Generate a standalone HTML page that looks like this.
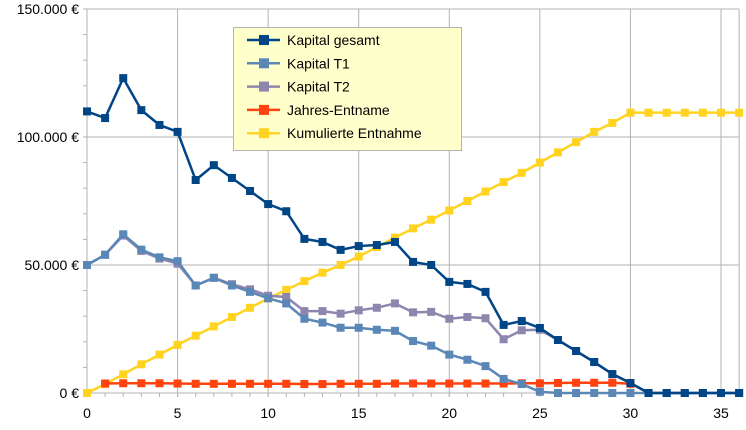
<!DOCTYPE html>
<html><head><meta charset="utf-8"><style>
body{margin:0;background:#fff;font-family:"Liberation Sans",sans-serif}
svg text{font-family:"Liberation Sans",sans-serif}
</style></head><body>
<svg id="c" width="746" height="425" xmlns="http://www.w3.org/2000/svg"></svg>
<script>
const years=[0,1,2,3,4,5,6,7,8,9,10,11,12,13,14,15,16,17,18,19,20,21,22,23,24,25,26,27,28,29,30,31,32,33,34,35,36];
const gesamt=[110,107.4,123,110.5,104.7,102,83.2,89,84,78.9,73.8,71,60.2,59,55.9,57.4,57.8,59,51.2,50,43.4,42.6,39.5,26.6,28.1,25.4,20.7,16.4,12.1,7.4,3.9,0,0,0,0,0,0];
const t1=[50,54,62,56,53,51.5,42,45,42,39.5,37,35,29,27.5,25.5,25.5,24.7,24.3,20.3,18.5,15,13,10.5,5.5,3.5,0.5,0,0,0,0,0,0,0,0,0,0,0];
const t2=[50,54,61.5,55.5,52.5,50.5,42,45,42.5,40.5,38,37.5,32,32,31,32.3,33.3,35,31.5,31.7,29,29.7,29.2,21,24.5,24.7,20.7,16.4,12.1,7.4,3.9,0,0,0,0,0,0];
const jahres=[null,3.7,3.8,3.8,3.8,3.7,3.6,3.6,3.6,3.6,3.6,3.6,3.5,3.5,3.6,3.6,3.6,3.7,3.7,3.7,3.7,3.7,3.7,3.7,3.8,3.8,3.9,4,4,4,3.6,null,null,null,null,null,null];
const kumuliert=[0,3.5,7.3,11.2,15,18.8,22.4,26,29.7,33.3,36.9,40.3,43.7,47,50,53.3,57,60.7,64.3,67.7,71.3,75,78.7,82.4,86,90,94,98,102,105.5,109.5,109.5,109.5,109.5,109.5,109.5,109.5];
const yTicks=[0,50,100,150];
const yLabels=["0 €","50.000 €","100.000 €","150.000 €"];
const xTicks=[0,5,10,15,20,25,30,35];
const seriesNames=["Kapital gesamt","Kapital T1","Kapital T2","Jahres-Entname","Kumulierte Entnahme"];
const X0=87,XW=(721-87)/35,Y0=393,YH=128/50;
const sx=v=>X0+v*XW, sy=v=>Y0-v*YH;
const svg=document.getElementById('c');
const NS='http://www.w3.org/2000/svg';
function el(t,a,p){const e=document.createElementNS(NS,t);for(const k in a)e.setAttribute(k,a[k]);(p||svg).appendChild(e);return e;}
// grid
yTicks.forEach((v,i)=>{
 const g=el('line',{x1:X0,x2:sx(36),y1:sy(v),y2:sy(v),stroke:'#b3b3b3','stroke-width':1});
 
 
 const t=el('text',{x:X0-8,y:sy(v)+5,'text-anchor':'end','font-size':14,fill:'#000'});
 t.textContent=yLabels[i];
 
 
});
for(let v=0;v<=150;v+=10){el('line',{x1:X0-4,x2:X0,y1:sy(v),y2:sy(v),stroke:'#b3b3b3'});}
const ya=el('line',{x1:X0,x2:X0,y1:sy(150),y2:Y0,stroke:'#b3b3b3'});


el('line',{x1:sx(36),x2:sx(36),y1:sy(150),y2:Y0,stroke:'#b3b3b3'});
for(let v=0;v<=36;v++){el('line',{x1:sx(v),x2:sx(v),y1:Y0,y2:Y0+4,stroke:'#b3b3b3'});}
xTicks.forEach(v=>{
 el('line',{x1:sx(v),x2:sx(v),y1:sy(150),y2:Y0+4,stroke:'#b3b3b3'});
 const t=el('text',{x:sx(v),y:418,'text-anchor':'middle','font-size':14});
 t.textContent=v;
 
 
});
const colors=['#004586','#5b87b7','#8e86ae','#ff420e','#ffd320'];
const data=[gesamt,t1,t2,jahres,kumuliert];
const order=[4,3,2,1,0];
order.forEach(si=>{
 const arr=data[si];const g=el('g',{});
 
 
 let d='';let pen=false;
 arr.forEach((v,i)=>{if(v==null){pen=false;return;}d+=(pen?'L':'M')+sx(years[i])+' '+sy(v)+' ';pen=true;});
 el('path',{d:d,fill:'none',stroke:colors[si],'stroke-width':2.5},g);
 arr.forEach((v,i)=>{if(v==null)return;
  const r=el('rect',{x:sx(years[i])-4,y:sy(v)-4,width:8,height:8,fill:colors[si]},g);
  
  
 });
});
// legend
const lg=el('g',{});


el('rect',{x:233.5,y:27.5,width:228,height:123,fill:'#ffffcc',stroke:'#b3b3b3'},lg);
seriesNames.forEach((n,i)=>{
 const y=40+i*23.3;
 const e=el('g',{},lg);
 
 
 el('line',{x1:247,x2:280,y1:y,y2:y,stroke:colors[i],'stroke-width':2.5},e);
 el('rect',{x:259,y:y-5,width:10,height:10,fill:colors[i]},e);
 const t=el('text',{x:287,y:y+5,'font-size':14},e);t.textContent=n;
});
</script>
</body></html>
